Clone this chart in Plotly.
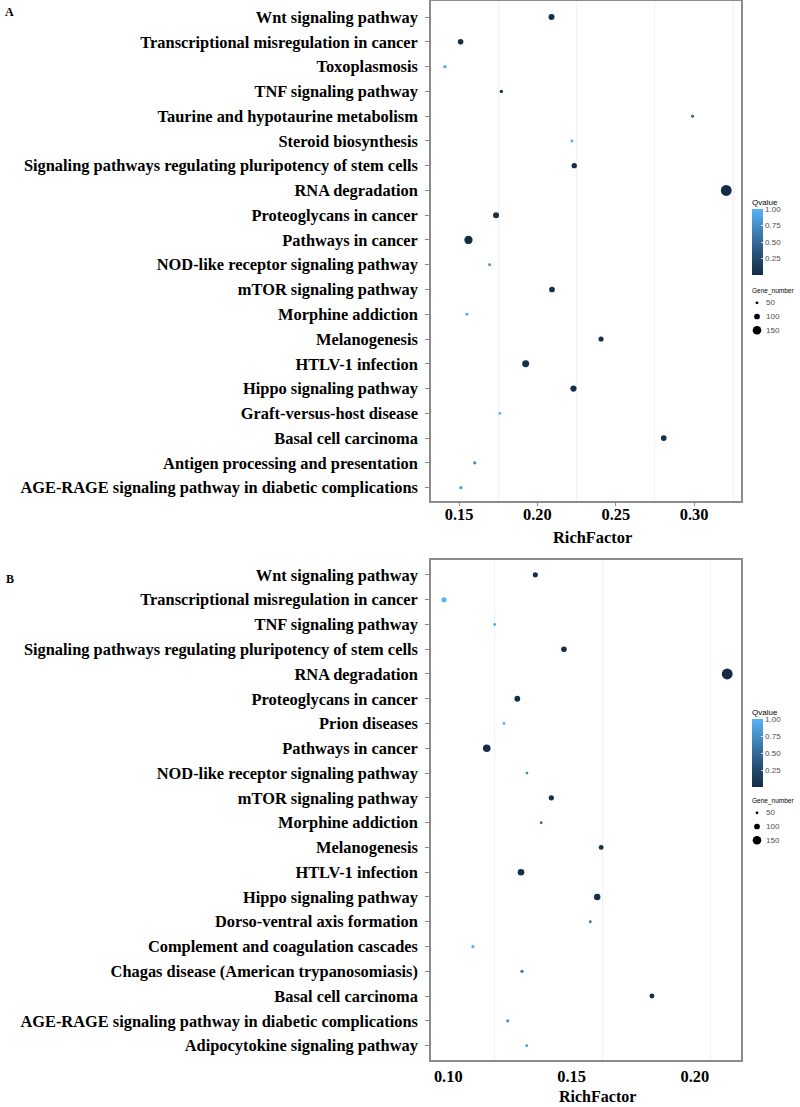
import plotly.graph_objects as go

# ---------------- Data: panel A ----------------
pathways_a = [
    "Wnt signaling pathway",
    "Transcriptional misregulation in cancer",
    "Toxoplasmosis",
    "TNF signaling pathway",
    "Taurine and hypotaurine metabolism",
    "Steroid biosynthesis",
    "Signaling pathways regulating pluripotency of stem cells",
    "RNA degradation",
    "Proteoglycans in cancer",
    "Pathways in cancer",
    "NOD-like receptor signaling pathway",
    "mTOR signaling pathway",
    "Morphine addiction",
    "Melanogenesis",
    "HTLV-1 infection",
    "Hippo signaling pathway",
    "Graft-versus-host disease",
    "Basal cell carcinoma",
    "Antigen processing and presentation",
    "AGE-RAGE signaling pathway in diabetic complications",
]
rich_a = [0.209, 0.151, 0.141, 0.177, 0.299, 0.222, 0.2235, 0.3205, 0.1736, 0.156,
          0.1695, 0.2093, 0.155, 0.2406, 0.1925, 0.223, 0.176, 0.2806, 0.160, 0.1512]
qval_a = [0.03, 0.03, 0.95, 0.05, 0.45, 1.00, 0.03, 0.02, 0.03, 0.02,
          0.80, 0.03, 0.92, 0.03, 0.03, 0.03, 1.00, 0.03, 0.70, 0.85]
genes_a = [105, 98, 60, 60, 52, 52, 93, 190, 105, 145,
           52, 100, 52, 90, 122, 109, 50, 100, 57, 57]

# ---------------- Data: panel B ----------------
pathways_b = [
    "Wnt signaling pathway",
    "Transcriptional misregulation in cancer",
    "TNF signaling pathway",
    "Signaling pathways regulating pluripotency of stem cells",
    "RNA degradation",
    "Proteoglycans in cancer",
    "Prion diseases",
    "Pathways in cancer",
    "NOD-like receptor signaling pathway",
    "mTOR signaling pathway",
    "Morphine addiction",
    "Melanogenesis",
    "HTLV-1 infection",
    "Hippo signaling pathway",
    "Dorso-ventral axis formation",
    "Complement and coagulation cascades",
    "Chagas disease (American trypanosomiasis)",
    "Basal cell carcinoma",
    "AGE-RAGE signaling pathway in diabetic complications",
    "Adipocytokine signaling pathway",
]
rich_b = [0.1353, 0.0983, 0.1188, 0.1469, 0.2131, 0.128, 0.1226, 0.1156, 0.1319, 0.1418,
          0.1377, 0.162, 0.1295, 0.1604, 0.1576, 0.110, 0.1299, 0.1826, 0.1241, 0.1318]
qval_b = [0.03, 1.00, 0.95, 0.03, 0.02, 0.03, 1.00, 0.02, 0.70, 0.03,
          0.50, 0.03, 0.03, 0.03, 0.55, 1.00, 0.60, 0.03, 0.75, 0.85]
genes_b = [90, 88, 52, 98, 190, 101, 50, 133, 50, 93,
           50, 85, 116, 113, 50, 57, 57, 87, 57, 52]

# legend values
size_legend = [50, 100, 150]
size_legend_labels = ["50", "100", "150"]
q_ticks = [0.25, 0.50, 0.75, 1.00]
q_ticktext = ["0.25", "0.50", "0.75", "1.00"]
xticks_a = [0.15, 0.20, 0.25, 0.30]
xticks_b = [0.10, 0.15, 0.20]

SIZE_DIV = 17.5
colorscale = [[0.0, "#132B43"], [0.25, "#214A6D"], [0.5, "#336A98"],
              [0.75, "#4590C6"], [1.0, "#56B1F7"]]

W, H = 800, 1107
SERIF = "Liberation Serif"
SANS = "Liberation Sans"
LBL = 16.4

def px_x(p):
    return p / W

def px_y(p):
    return 1 - p / H

fig = go.Figure()

panels = [
    dict(cats=pathways_a, x=rich_a, q=qval_a, g=genes_a, xa="x", ya="y",
         cb_y0=209, cb_y1=275, lx="x3", ly="y3"),
    dict(cats=pathways_b, x=rich_b, q=qval_b, g=genes_b, xa="x2", ya="y2",
         cb_y0=719, cb_y1=787, lx="x4", ly="y4"),
]

for p in panels:
    fig.add_trace(go.Scatter(
        x=p["x"], y=p["cats"], mode="markers", xaxis=p["xa"], yaxis=p["ya"],
        showlegend=False,
        marker=dict(
            size=[g / SIZE_DIV for g in p["g"]], opacity=1,
            color=p["q"], cmin=0.0, cmax=1.0, colorscale=colorscale,
            line=dict(width=0),
            colorbar=dict(
                x=px_x(752), xanchor="left", xref="paper",
                y=px_y(p["cb_y1"]), yanchor="bottom", yref="paper",
                lenmode="pixels", len=p["cb_y1"] - p["cb_y0"],
                thickness=11, outlinewidth=0,
                tickvals=q_ticks, ticktext=q_ticktext,
                ticks="inside", ticklen=2, tickcolor="rgba(255,255,255,0.8)",
                tickfont=dict(family=SANS, size=8, color="#4d4d4d"),
                ypad=0, xpad=0,
            ),
        ),
    ))
    # size legend keys (drawn on a small auxiliary axis)
    fig.add_trace(go.Scatter(
        x=[0] * len(size_legend), y=list(range(len(size_legend))), mode="markers",
        xaxis=p["lx"], yaxis=p["ly"], showlegend=False, hoverinfo="skip",
        marker=dict(size=[v / SIZE_DIV for v in size_legend], color="black",
                    opacity=1, line=dict(width=0)),
    ))

axis_common = dict(
    showline=True, linecolor="#8c8c8c", linewidth=1.6, mirror=True,
    zeroline=False, showgrid=False,
)
hidden = dict(visible=False, showgrid=False, zeroline=False, fixedrange=True)

fig.update_layout(
    width=W, height=H,
    margin=dict(l=0, r=0, t=0, b=0),
    paper_bgcolor="white", plot_bgcolor="white",
    showlegend=False,
    xaxis=dict(
        domain=[px_x(431), px_x(741)], anchor="y",
        range=[0.1321, 0.3299], tickvals=xticks_a,
        ticktext=["%.2f" % v for v in xticks_a],
        ticks="outside", ticklen=3, tickcolor="#8c8c8c",
        ticklabelstandoff=-5,
        tickfont=dict(family=SERIF, size=LBL, color="black", weight="bold"),
        minor=dict(tick0=0.175, dtick=0.05, showgrid=True, gridcolor="#f2f2f2",
                   gridwidth=1, ticks=""),
        **axis_common,
    ),
    yaxis=dict(
        domain=[px_y(501), px_y(1)], anchor="x",
        type="category", categoryorder="array", categoryarray=pathways_a,
        range=[19.54, -0.65],
        ticks="outside", ticklen=4, tickcolor="#8c8c8c",
        ticklabelstandoff=4,
        tickfont=dict(family=SERIF, size=LBL, color="black", weight="bold"),
        **axis_common,
    ),
    xaxis2=dict(
        domain=[px_x(431), px_x(741)], anchor="y2",
        range=[0.0930, 0.2187], tickvals=xticks_b,
        ticktext=["%.2f" % v for v in xticks_b],
        ticks="", ticklabelstandoff=1,
        tickfont=dict(family=SERIF, size=LBL, color="black", weight="bold"),
        minor=dict(tick0=0.1189, dtick=0.0438, showgrid=True, gridcolor="#f2f2f2",
                   gridwidth=1, ticks=""),
        **axis_common,
    ),
    yaxis2=dict(
        domain=[px_y(1060), px_y(560)], anchor="x2",
        type="category", categoryorder="array", categoryarray=pathways_b,
        range=[19.58, -0.6],
        ticks="outside", ticklen=4, tickcolor="#8c8c8c",
        ticklabelstandoff=4,
        tickfont=dict(family=SERIF, size=LBL, color="black", weight="bold"),
        **axis_common,
    ),
    # auxiliary axes for the Gene_number size legends
    xaxis3=dict(domain=[px_x(750), px_x(764)], range=[-1, 1], anchor="y3", **hidden),
    yaxis3=dict(domain=[px_y(337), px_y(296)], anchor="x3",
                range=[2.5, -0.5], **hidden),
    xaxis4=dict(domain=[px_x(750), px_x(764)], range=[-1, 1], anchor="y4", **hidden),
    yaxis4=dict(domain=[px_y(847), px_y(806)], anchor="x4",
                range=[2.5, -0.5], **hidden),
)

annotations = [
    dict(text="<b>A</b>", x=px_x(3), y=px_y(12), xanchor="left", yanchor="middle",
         font=dict(family=SERIF, size=12, color="black")),
    dict(text="<b>B</b>", x=px_x(4), y=px_y(579), xanchor="left", yanchor="middle",
         font=dict(family=SERIF, size=12, color="black")),
    dict(text="<b>RichFactor</b>", x=px_x(592), y=px_y(537), xanchor="center", yanchor="middle",
         font=dict(family=SERIF, size=LBL, color="black")),
    dict(text="<b>RichFactor</b>", x=px_x(597), y=0, xanchor="center", yanchor="bottom",
         font=dict(family=SERIF, size=16, color="black")),
    dict(text="Qvalue", x=px_x(750), y=px_y(202), xanchor="left", yanchor="middle",
         font=dict(family=SANS, size=8, color="black")),
    dict(text="Qvalue", x=px_x(750), y=px_y(712), xanchor="left", yanchor="middle",
         font=dict(family=SANS, size=8, color="black")),
    dict(text="Gene_number", x=px_x(750), y=px_y(291), xanchor="left", yanchor="middle",
         font=dict(family=SANS, size=6.5, color="black")),
    dict(text="Gene_number", x=px_x(750), y=px_y(801), xanchor="left", yanchor="middle",
         font=dict(family=SANS, size=6.5, color="black")),
]
for a in annotations:
    a.update(xref="paper", yref="paper", showarrow=False)
# size legend labels, next to the keys on the auxiliary axes
for lx, ly in (("x3", "y3"), ("x4", "y4")):
    for i, lab in enumerate(size_legend_labels):
        annotations.append(dict(
            text=lab, x=1, y=i, xref=lx, yref=ly, xanchor="left", yanchor="middle",
            showarrow=False, font=dict(family=SANS, size=8, color="#4d4d4d"),
        ))
fig.update_layout(annotations=annotations)

fig.write_html("out.html", config={"displayModeBar": False},
               post_script="document.body.style.margin='0';")
